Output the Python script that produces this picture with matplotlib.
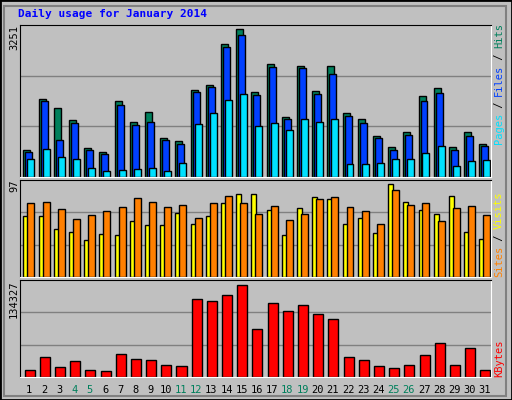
import matplotlib
matplotlib.use('Agg')
import matplotlib.pyplot as plt
from matplotlib.patches import Rectangle
import numpy as np

days = list(range(1, 32))
weekend = [4, 5, 11, 12, 18, 19, 25, 26]

hits = [603, 1728, 1530, 1250, 647, 559, 1670, 1221, 1442, 868, 802, 1905, 2015, 2920, 3251, 1861,
        2479, 1331, 2434, 1883, 2434, 1420, 1287, 912, 669, 1000, 1773, 1949, 669, 1000, 735]
files = [559, 1684, 824, 1199, 603, 515, 1596, 1155, 1221, 824, 735, 1861, 1971, 2854, 3118, 1795,
         2412, 1287, 2390, 1817, 2258, 1353, 1199, 868, 603, 934, 1684, 1839, 603, 912, 691]
pages = [405, 625, 449, 405, 206, 140, 162, 184, 206, 140, 316, 1177, 1419, 1706, 1817, 1133,
         1199, 1044, 1287, 1221, 1287, 294, 294, 316, 405, 405, 537, 691, 250, 360, 382]
visits = [64, 64, 50, 47, 39, 45, 44, 59, 54, 54, 67, 55, 64, 78, 87, 87,
          70, 44, 72, 84, 82, 56, 62, 46, 97, 79, 70, 66, 85, 47, 40]
sites = [77, 79, 71, 61, 65, 69, 73, 83, 79, 73, 75, 62, 78, 85, 78, 66,
         74, 60, 66, 82, 84, 73, 69, 56, 91, 75, 78, 59, 72, 74, 65]
kbytes = [10784, 29900, 15200, 24020, 10784, 9314, 34315, 26960, 25490, 18140, 16670, 113730,
          110790, 119610, 134327, 69610, 107850, 96080, 104900, 91670, 84320, 29900, 25490,
          16670, 13730, 18140, 32840, 49020, 18140, 41670, 10784]

W, H = 512, 400
BG = '#C0C0C0'
GREEN = '#00805C'
BLUE = '#0040FF'
CYAN = '#00E0FF'
YELLOW = '#FFFF00'
ORANGE = '#FF8000'
RED = '#FF0000'
MONO = 'DejaVu Sans Mono'

fig = plt.figure(figsize=(W / 100, H / 100), dpi=100, facecolor=BG)

# outer bevel
fig.patches.append(Rectangle((0, 0), 1, 1, transform=fig.transFigure, fill=False,
                             edgecolor='black', linewidth=2))
fig.patches.append(Rectangle((4 / W, 4 / H), 1 - 10 / W, 1 - 10 / H, transform=fig.transFigure,
                             fill=False, edgecolor='#808080', linewidth=1.5))


def panel(top, bottom):
    ax = fig.add_axes([20 / W, 1 - bottom / H, 471 / W, (bottom - top) / H])
    ax.set_facecolor(BG)
    ax.set_xlim(0.5, 31.5)
    ax.set_xticks([])
    ax.set_yticks([])
    for s in ['top', 'left']:
        ax.spines[s].set_color('black')
    for s in ['bottom', 'right']:
        ax.spines[s].set_color('white')
    return ax


x = np.array(days, dtype=float)
ec = dict(edgecolor='black', linewidth=1)

# top panel: hits / files / pages
ax1 = panel(25, 177)
top1 = max(hits) * 455 / 442
ax1.set_ylim(0, top1)
for f in (1 / 3, 2 / 3):
    ax1.axhline(top1 * f, color='#808080', linewidth=1, zorder=0)
ax1.bar(x - 0.27, hits, width=0.46, align='edge', color=GREEN, **ec)
ax1.bar(x - 0.14, files, width=0.46, align='edge', color=BLUE, **ec)
ax1.bar(x - 0.01, pages, width=0.46, align='edge', color=CYAN, **ec)

# middle panel: visits / sites
ax2 = panel(180, 277)
top2 = max(visits) * 289 / 276
ax2.set_ylim(0, top2)
for f in (1 / 3, 2 / 3):
    ax2.axhline(top2 * f, color='#808080', linewidth=1, zorder=0)
ax2.bar(x - 0.27, visits, width=0.33, align='edge', color=YELLOW, **ec)
ax2.bar(x - 0.01, sites, width=0.46, align='edge', color=ORANGE, **ec)

# bottom panel: kbytes
ax3 = panel(280, 377)
top3 = max(kbytes) * 289 / 274
ax3.set_ylim(0, top3)
for f in (1 / 3, 2 / 3):
    ax3.axhline(top3 * f, color='#808080', linewidth=1, zorder=0)
ax3.bar(x - 0.2, kbytes, width=0.66, align='edge', color=RED, **ec)

# day labels
for d in days:
    ax3.text(d + 0.1, -0.08, str(d), transform=ax3.get_xaxis_transform(), ha='center', va='top',
             fontsize=7.5, family=MONO, color=GREEN if d in weekend else 'black')

# title
fig.text(18 / W, 1 - 14 / H, 'Daily usage for January 2014', fontsize=8, family=MONO,
         weight='bold', color='#0000FF', va='center')

# max labels on the left
for ytop, label in [(25, '3251'), (180, '97'), (280, '134327')]:
    fig.text(14 / W, 1 - ytop / H, label, rotation=90, ha='center', va='top',
             fontsize=7.5, family=MONO)


def side_label(parts, ybottom):
    y = ybottom
    for txt, col in parts:
        fig.text(499 / W, 1 - y / H, txt, rotation=90, ha='center', va='bottom',
                 fontsize=7.5, family=MONO, color=col)
        y -= len(txt) * 6.0


side_label([('Pages', CYAN), (' / ', 'black'), ('Files', BLUE), (' / ', 'black'), ('Hits', GREEN)], 144)
side_label([('Sites', ORANGE), (' / ', 'black'), ('Visits', YELLOW)], 277)
side_label([('KBytes', RED)], 377)

fig.savefig('out.png', dpi=100, facecolor=BG)
